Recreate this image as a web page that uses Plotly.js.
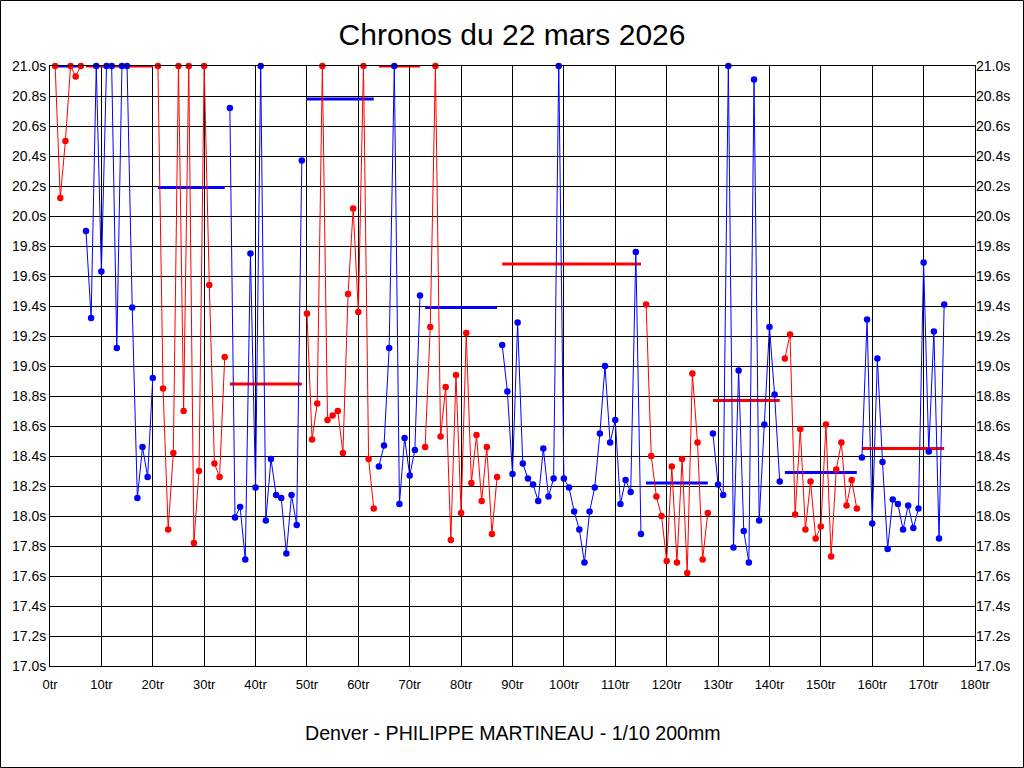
<!DOCTYPE html>
<html>
<head>
<meta charset="utf-8">
<script src="https://cdn.plot.ly/plotly-3.0.1.min.js"></script>
<style>
  body { margin: 0; background: #fff; }
  #graphDiv { width: 1024px; height: 768px; }
</style>
</head>
<body>
<div id="graphDiv"></div>
<script>
// html tag
const graphDiv = document.getElementById('graphDiv');

// laps where each relay starts *************************************
const relayStart = [1, 7, 21, 35, 50, 64, 73, 88, 116, 129, 143, 158];

// lap times (s), 21.0 = off the top of the scale ********************
const relay1  = [21.0, 20.12, 20.50, 21.0, 20.93, 21.0];
const relay2  = [19.90, 19.32, 21.0, 19.63, 21.0, 21.0, 19.12, 21.0, 21.0, 19.39, 18.12, 18.46, 18.26, 18.92];
const relay3  = [21.0, 18.85, 17.91, 18.42, 21.0, 18.70, 21.0, 17.82, 18.30, 21.0, 19.54, 18.35, 18.26, 19.06];
const relay4  = [20.72, 17.99, 18.06, 17.71, 19.75, 18.19, 21.0, 17.97, 18.38, 18.14, 18.12, 17.75, 18.14, 17.94, 20.37];
const relay5  = [19.35, 18.51, 18.75, 21.0, 18.64, 18.67, 18.70, 18.42, 19.48, 20.05, 19.36, 21.0, 18.38, 18.05];
const relay6  = [18.33, 18.47, 19.12, 21.0, 18.08, 18.52, 18.27, 18.44, 19.47];
const relay7  = [18.46, 19.26, 21.0, 18.53, 18.86, 17.84, 18.94, 18.02, 19.22, 18.22, 18.54, 18.10, 18.46, 17.88, 18.26];
const relay8  = [19.14, 18.83, 18.28, 19.29, 18.35, 18.25, 18.21, 18.10, 18.45, 18.13, 18.25, 21.0, 18.25, 18.19,
                 18.03, 17.91, 17.69, 18.03, 18.19, 18.55, 19.00, 18.49, 18.64, 18.08, 18.24, 18.16, 19.76, 17.88];
const relay9  = [19.41, 18.40, 18.13, 18.00, 17.70, 18.33, 17.69, 18.38, 17.62, 18.95, 18.49, 17.71, 18.02];
const relay10 = [18.55, 18.21, 18.14, 21.0, 17.79, 18.97, 17.90, 17.69, 20.91, 17.97, 18.61, 19.26, 18.81, 18.23];
const relay11 = [19.05, 19.21, 18.01, 18.58, 17.91, 18.23, 17.85, 17.93, 18.61, 17.73, 18.31, 18.49, 18.07, 18.24, 18.05];
const relay12 = [18.39, 19.31, 17.95, 19.05, 18.36, 17.78, 18.11, 18.08, 17.91, 18.07, 17.92, 18.05, 19.69, 18.43,
                 19.23, 17.85, 19.41];

const relays = [relay1, relay2, relay3, relay4, relay5, relay6, relay7, relay8, relay9, relay10, relay11, relay12];

// mean of each relay (clipped at 21.0) ******************************
const relayMean = [21.0, 21.0, 20.19, 18.88, 20.78, 21.0, 19.39, 19.68, 18.22, 18.77, 18.29, 18.45];

const yTickVals = [17.0, 17.2, 17.4, 17.6, 17.8, 18.0, 18.2, 18.4, 18.6, 18.8, 19.0,
                   19.2, 19.4, 19.6, 19.8, 20.0, 20.2, 20.4, 20.6, 20.8, 21.0];
const xTickVals = [0, 10, 20, 30, 40, 50, 60, 70, 80, 90, 100, 110, 120, 130, 140, 150, 160, 170, 180];

const chartTitle = 'Chronos du 22 mars 2026';
const footText = 'Denver - PHILIPPE MARTINEAU - 1/10 200mm';

const RED = '#ff0000';
const BLUE = '#0000ff';

// tick labels with their units
const yTickText = yTickVals.map( function(v){ return v.toFixed(1) + 's'; } );
const xTickText = xTickVals.map( function(v){ return v + 'tr'; } );

// traces ***********************************************************
var meanTraces = [];
var lapTraces = [];

for( var r = 0; r < relays.length; r++ ) {
  var laps = [];
  for( var i = 0; i < relays[r].length; i++ ) {
    laps.push( relayStart[r] + i );
  }
  var col = ( r % 2 == 0 ) ? RED : BLUE;
  var meanCol = ( r % 2 == 0 ) ? BLUE : RED;   // mean drawn in the other colour

  meanTraces.push({
    x: [ laps[0], laps[laps.length - 1] ],
    y: [ relayMean[r], relayMean[r] ],
    mode: 'lines',
    line: { color: meanCol, width: 3 },
    cliponaxis: false,
    xaxis: 'x',
    yaxis: 'y'
  });

  lapTraces.push({
    x: laps,
    y: relays[r],
    mode: 'lines+markers',
    line: { color: col, width: 1 },
    marker: { color: col, size: 6.5 },
    cliponaxis: false,
    xaxis: 'x',
    yaxis: 'y2'
  });
}

const xTickFont = { family: 'Liberation Sans, Arial, sans-serif', size: 13, color: '#000' };
const yTickFont = { family: 'Liberation Sans, Arial, sans-serif', size: 14, color: '#000' };

Plotly.newPlot(
  graphDiv,
  meanTraces.concat( lapTraces ),
  {
    width: 1024,
    height: 768,
    margin: { l: 50, r: 49, t: 66, b: 102 },
    paper_bgcolor: '#fff',
    plot_bgcolor: '#fff',
    showlegend: false,
    hovermode: false,
    title: {
      text: chartTitle,
      font: { family: 'Liberation Sans, Arial, sans-serif', size: 30, color: '#000' },
      x: 0.5, xref: 'container',
      y: 1 - 34 / 768, yref: 'container', yanchor: 'middle'
    },
    xaxis: {
      range: [0, 180],
      tickmode: 'array',
      tickvals: xTickVals,
      ticktext: xTickText,
      ticks: '',
      ticklabelstandoff: 6,
      showgrid: true, gridcolor: '#000', gridwidth: 1,
      zeroline: false,
      showline: true, linecolor: '#000', linewidth: 1, mirror: true,
      tickfont: xTickFont
    },
    yaxis: {
      range: [17, 21],
      tickmode: 'array',
      tickvals: yTickVals,
      ticktext: yTickText,
      ticks: '',
      showgrid: true, gridcolor: '#000', gridwidth: 1,
      zeroline: false,
      showline: true, linecolor: '#000', linewidth: 1, mirror: true,
      tickfont: yTickFont
    },
    yaxis2: {
      range: [17, 21],
      overlaying: 'y',
      side: 'right',
      tickmode: 'array',
      tickvals: yTickVals,
      ticktext: yTickText,
      ticks: '',
      showgrid: false,
      zeroline: false,
      showline: false,
      tickfont: yTickFont
    },
    annotations: [{
      text: footText,
      xref: 'paper', yref: 'paper',
      x: 0.5, y: ( 666 - 733 ) / 600,
      xanchor: 'center', yanchor: 'middle',
      showarrow: false,
      font: { family: 'Liberation Sans, Arial, sans-serif', size: 19.6, color: '#000' }
    }],
    // thin frame round the whole picture
    shapes: [{
      type: 'rect',
      xref: 'paper', yref: 'paper',
      x0: ( 0.5 - 50 ) / 925, x1: ( 1023.5 - 50 ) / 925,
      y0: ( 666 - 767.5 ) / 600, y1: ( 666 - 0.5 ) / 600,
      line: { color: '#000', width: 1 }
    }]
  },
  { staticPlot: true }
);
</script>
</body>
</html>
